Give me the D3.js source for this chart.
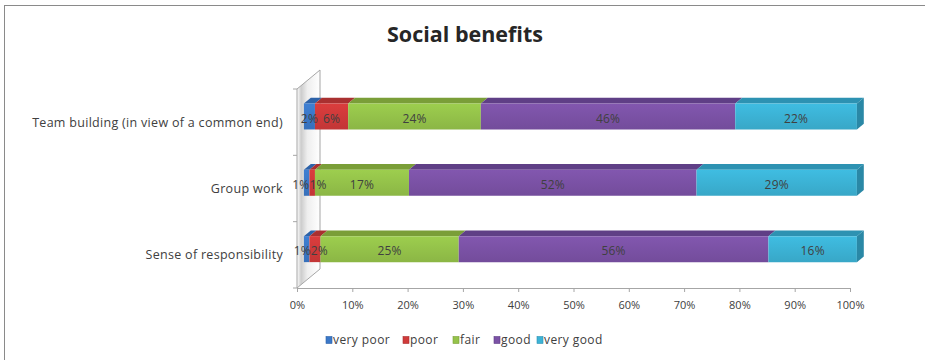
<!DOCTYPE html>
<html>
<head>
<meta charset="utf-8">
<script src="https://cdn.jsdelivr.net/npm/d3@7"></script>
<style>
  html, body { margin: 0; padding: 0; background: #fff; }
  svg { display: block; }
  text { font-family: "Open Sans", Lato, sans-serif; }
</style>
</head>
<body>
<svg id="chart" width="925" height="360"></svg>
<script>
// Survey answers, percent of respondents per rating
const categories = ["Team building (in view of a common end)", "Group work", "Sense of responsibility"];
const ratings = ["very poor", "poor", "fair", "good", "very good"];
const veryPoor = [2, 1, 1];
const poor     = [6, 1, 2];
const fair     = [24, 17, 25];
const good     = [46, 52, 56];
const veryGood = [22, 29, 16];
const tickValues = [0, 0.1, 0.2, 0.3, 0.4, 0.5, 0.6, 0.7, 0.8, 0.9, 1];

const seriesValues = [veryPoor, poor, fair, good, veryGood];
const frontColors = ["#3b78c8", "#d03a3a", "#95c34a", "#7b52a6", "#3cb3d6"];
const topColors   = ["#2d62a8", "#a93030", "#7a9e38", "#5f3f86", "#2d92b2"];
const FONT = "'Open Sans', Lato, sans-serif";

const svg = d3.select("#chart");
const defs = svg.append("defs");

// outer chart frame
svg.append("rect")
  .attr("x", 4.5).attr("y", 5.5).attr("width", 940).attr("height", 380)
  .attr("fill", "#fff").attr("stroke", "#8a8a8a").attr("stroke-width", 1);

// title
svg.append("text")
  .attr("x", 465).attr("y", 42)
  .attr("text-anchor", "middle")
  .attr("font-size", 21.5).attr("font-weight", "bold").attr("fill", "#262626")
  .text("Social benefits");

// scales on the front plane of the 3-D box
const x = d3.scaleLinear().domain([0, 1]).range([297, 850]);
const y = d3.scaleBand().domain(categories).range([89, 288]);
const depth = { dx: 23, dy: -19 };          // full depth of the box
const z0 = 0.3, z1 = 0.6;                    // bar depth slice
const barH = 26;

function pt(px, py, z) { return [px + depth.dx * z, py + depth.dy * z]; }
const poly = pts => "M" + pts.map(p => p.join(",")).join("L") + "Z";

// side wall with soft shading
const wg = defs.append("linearGradient").attr("id", "wallGrad")
  .attr("x1", "0").attr("x2", "1").attr("y1", "0").attr("y2", "0");
wg.append("stop").attr("offset", "0%").attr("stop-color", "#ffffff");
wg.append("stop").attr("offset", "18%").attr("stop-color", "#cccccc");
wg.append("stop").attr("offset", "45%").attr("stop-color", "#eeeeee");
wg.append("stop").attr("offset", "100%").attr("stop-color", "#ffffff");

const x0 = x(0), yTop = y.range()[0], yBot = y.range()[1];
svg.append("path")
  .attr("d", poly([[x0, yTop], pt(x0, yTop, 1), pt(x0, yBot, 1), [x0, yBot]]))
  .attr("fill", "url(#wallGrad)").attr("stroke", "#a6a6a6").attr("stroke-width", 1);

// category axis ticks and labels
const bounds = categories.map(c => y(c)).concat([yBot]);
svg.selectAll(".ytick").data(bounds).join("line")
  .attr("x1", x0 - 4).attr("x2", x0).attr("y1", d => d).attr("y2", d => d)
  .attr("stroke", "#a6a6a6");

svg.selectAll(".ylab").data(categories).join("text")
  .attr("x", 283).attr("y", c => y(c) + y.bandwidth() / 2)
  .attr("dy", "0.35em").attr("text-anchor", "end")
  .attr("font-size", 12.5).attr("letter-spacing", 0.3).attr("fill", "#404040")
  .text(c => c);

// value axis
const xAxis = svg.append("g").attr("transform", `translate(0,${yBot})`)
  .call(d3.axisBottom(x).tickValues(tickValues).tickFormat(d3.format(".0%")).tickSize(4).tickPadding(9));
xAxis.select(".domain").attr("stroke", "#a6a6a6");
xAxis.selectAll(".tick line").attr("stroke", "#a6a6a6");
xAxis.selectAll(".tick text").attr("font-family", FONT)
  .attr("font-size", 11).attr("fill", "#404040");

// gradient for bar fronts
frontColors.forEach((c, i) => {
  const g = defs.append("linearGradient").attr("id", "fg" + i)
    .attr("x1", "0").attr("x2", "0").attr("y1", "0").attr("y2", "1");
  g.append("stop").attr("offset", "0%").attr("stop-color", d3.color(c).brighter(0.15));
  g.append("stop").attr("offset", "100%").attr("stop-color", d3.color(c).darker(0.2));
});

// stacked 3-D bars
const stackRows = categories.map((c, ci) => {
  let acc = 0;
  const total = d3.sum(seriesValues, s => s[ci]);
  return seriesValues.map((s, si) => {
    const start = acc / total; acc += s[ci];
    return { cat: c, si, v: s[ci], a: start, b: acc / total };
  });
});

const bars = svg.append("g");
stackRows.forEach(row => {
  const cy = y(row[0].cat) + y.bandwidth() / 2;
  const t = cy - barH / 2, b = cy + barH / 2;
  const g = bars.append("g");
  row.forEach(seg => {
    const xa = x(seg.a), xb = x(seg.b);
    // top face
    g.append("path")
      .attr("d", poly([pt(xa, t, z0), pt(xb, t, z0), pt(xb, t, z1), pt(xa, t, z1)]))
      .attr("fill", topColors[seg.si]);
    // front face
    g.append("path")
      .attr("d", poly([pt(xa, t, z0), pt(xb, t, z0), pt(xb, b, z0), pt(xa, b, z0)]))
      .attr("fill", `url(#fg${seg.si})`);
  });
  const last = row[row.length - 1];
  const xe = x(last.b);
  g.append("path")
    .attr("d", poly([pt(xe, t, z0), pt(xe, t, z1), pt(xe, b, z1), pt(xe, b, z0)]))
    .attr("fill", d3.color(topColors[last.si]).darker(0.2));

  // value labels, centred on each segment, nudged apart when narrow segments collide
  const labels = row.map(seg => {
    const p = pt((x(seg.a) + x(seg.b)) / 2, cy, z0);
    const el = g.append("text")
      .attr("y", p[1] + 2)
      .attr("dy", "0.35em").attr("text-anchor", "middle")
      .attr("font-size", 12).attr("letter-spacing", 0.2).attr("fill", "#404040")
      .text(seg.v + "%");
    return { el, cx: p[0], w: el.node().getComputedTextLength() };
  });
  for (let i = 1; i < labels.length; i++) {
    const a = labels[i - 1], b = labels[i];
    const overlap = (a.cx + a.w / 2) - (b.cx - b.w / 2);
    if (overlap > 0) { a.cx -= overlap / 2; b.cx += overlap / 2; }
  }
  labels.forEach(l => l.el.attr("x", l.cx));
});

// legend
const legendX = [326, 403, 453, 494, 537];
const lg = svg.append("g");
ratings.forEach((r, i) => {
  const item = lg.append("g").attr("transform", `translate(${legendX[i]},340)`);
  item.append("rect").attr("x", 0).attr("y", -3.5).attr("width", 6).attr("height", 7)
    .attr("fill", frontColors[i]).attr("stroke", topColors[i]).attr("stroke-width", 0.6);
  item.append("text").attr("x", 7).attr("y", 0).attr("dy", "0.35em")
    .attr("font-size", 12).attr("letter-spacing", 0.4).attr("fill", "#404040").text(r);
});
</script>
</body>
</html>
